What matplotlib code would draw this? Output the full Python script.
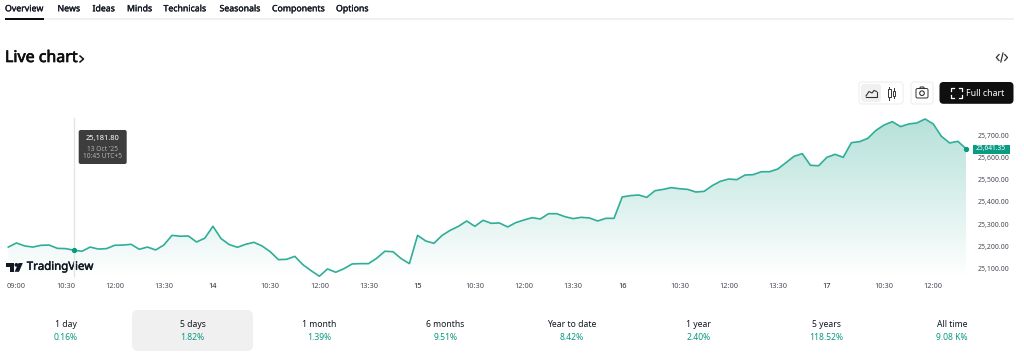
import numpy as np
import matplotlib
matplotlib.use("Agg")
import matplotlib.pyplot as plt
import matplotlib.patheffects as pe
from matplotlib.patches import FancyBboxPatch, Rectangle, Polygon, Circle

# ---- data ----
prices = [25196, 25214.5, 25201, 25196, 25204, 25205, 25190, 25189, 25181.8, 25177,
          25196, 25187, 25189, 25204, 25205, 25208.5, 25186, 25196, 25183, 25205,
          25249, 25245, 25246, 25219, 25236, 25290, 25234, 25207, 25195, 25208.5,
          25217.5, 25201, 25175, 25139, 25140.6, 25154, 25116, 25089, 25064, 25097,
          25082, 25098, 25119.5, 25121, 25121, 25145, 25177, 25175, 25143.6, 25121,
          25249, 25223.5, 25213, 25249, 25272, 25290, 25314, 25290, 25317, 25303.5,
          25305, 25287, 25306.5, 25318.6, 25329, 25323, 25347, 25347, 25333.6, 25324.6,
          25330.6, 25327.6, 25314, 25326, 25326, 25422.6, 25428.7, 25431.7, 25421, 25451,
          25457, 25465, 25460, 25457, 25445, 25448, 25474, 25493.6, 25504, 25501,
          25522, 25523.7, 25537, 25537, 25549, 25578, 25606.7, 25618.7, 25566, 25564,
          25602, 25615.7, 25602, 25668.5, 25673, 25688, 25724, 25748.5, 25763.5, 25741,
          25753, 25757.5, 25775.6, 25753, 25697, 25667, 25674.5, 25641.35]
x_tick_pos = [1, 7, 13, 19, 25, 32, 38, 44, 50, 57, 63, 69, 75, 82, 88, 94, 100, 107, 113]
x_tick_lab = ["09:00", "10:30", "12:00", "13:30", "14", "10:30", "12:00", "13:30", "15",
              "10:30", "12:00", "13:30", "16", "10:30", "12:00", "13:30", "17", "10:30", "12:00"]
y_ticks = [25100, 25200, 25300, 25400, 25500, 25600, 25700]
hover_index = 8
tabs = ["Overview", "News", "Ideas", "Minds", "Technicals", "Seasonals", "Components", "Options"]
tab_x = [5, 57.5, 92.5, 127, 163.5, 219.5, 272, 336]
periods = ["1 day", "5 days", "1 month", "6 months", "Year to date", "1 year", "5 years", "All time"]
changes = ["0.16%", "1.82%", "1.39%", "9.51%", "8.42%", "2.40%", "118.52%", "9.08 K%"]
period_x = [66, 192.5, 319, 445.5, 572, 699, 826, 952]

FONT = "Noto Sans"
plt.rcParams["font.family"] = FONT
W, H = 1024, 359
fig = plt.figure(figsize=(W / 100, H / 100), dpi=100, facecolor="white")

LINE = "#2fae98"
GREEN = "#089981"
GREY = "#4a4d57"

def box(px0, py0, px1, py1):
    return [px0 / W, 1 - py1 / H, (px1 - px0) / W, (py1 - py0) / H]

def heavy(w, color):
    return [pe.withStroke(linewidth=w, foreground=color)]

# ---- chart ----
ax = fig.add_axes(box(8.3, 118, 966, 278))
ax.patch.set_alpha(0)
for s in ax.spines.values():
    s.set_visible(False)
x = np.arange(len(prices))
ax.set_xlim(0, len(prices) - 1)
ax.set_ylim(25056, 25780)
top = max(prices)
grad = np.zeros((256, 2, 4))
grad[..., :3] = matplotlib.colors.to_rgb(GREEN)
grad[..., 3] = np.linspace(0.30, 0.0, 256)[:, None]
im = ax.imshow(grad, extent=(0, len(prices) - 1, 25056, top), aspect="auto", origin="upper", zorder=1)
poly = Polygon(list(zip(x, prices)) + [(x[-1], 25056), (0, 25056)], closed=True, transform=ax.transData,
               fc="none", ec="none")
ax.add_patch(poly)
im.set_clip_path(poly)
ax.set_xlim(0, len(prices) - 1)
ax.set_ylim(25056, 25780)
ax.axvline(hover_index, color="#e3e3e3", lw=0.9, zorder=2)
ax.plot(x, prices, color=LINE, lw=1.2, zorder=3, solid_joinstyle="round", clip_on=False)
ax.plot([hover_index, x[-1]], [prices[hover_index], prices[-1]], ls="none", marker="o", ms=2.8,
        color=GREEN, zorder=4, clip_on=False)
ax.set_xticks(x_tick_pos)
ax.set_xticklabels(x_tick_lab, fontsize=5.3, color=GREY)
for t in ax.get_xticklabels():
    if len(t.get_text()) == 2:
        t.set_fontweight("bold")
        t.set_color("#222222")
ax.set_yticks(y_ticks)
ax.set_yticklabels([f"{v:,.2f}" for v in y_ticks], fontsize=5.0, color=GREY)
ax.yaxis.tick_right()
ax.tick_params(axis="both", length=0)
ax.tick_params(axis="x", pad=3.4)
ax.tick_params(axis="y", pad=8.5)

# ---- page overlay in pixel coordinates ----
ov = fig.add_axes([0, 0, 1, 1], zorder=10)
ov.set_xlim(0, W)
ov.set_ylim(H, 0)
ov.axis("off")
ov.patch.set_alpha(0)

# last-price tag
ov.add_patch(Rectangle((973, 144.6), 37, 9.2, fc="#0a9b83", ec="none"))
ax.annotate(f"{prices[-1]:,.2f}", xy=(x[-1], prices[-1]), xytext=(18.0, 0), textcoords="offset points",
            ha="center", va="center", fontsize=4.8, color="white", annotation_clip=False, zorder=20)
ax.set_zorder(11)

ov.add_patch(Rectangle((5, 17.5), 1009, 2.2, fc="#f0f0f0", ec="none"))
ov.add_patch(Rectangle((5, 17.5), 39, 2.2, fc="#0f0f0f", ec="none"))
for name, px in zip(tabs, tab_x):
    ov.text(px, 8.8, name, fontsize=6.3, color="#131722", va="center", ha="left",
            path_effects=heavy(0.2, "#131722"))
ov.text(5, 58, "Live chart", fontsize=11.5, color="#0f0f0f", va="center", ha="left",
        path_effects=heavy(0.5, "#0f0f0f"))
ov.plot([80, 83.5, 80], [56, 59, 62], color="#0f0f0f", lw=1.1)

# embed icon
ov.plot([999, 996.3, 999], [54.5, 57.5, 60.5], color="#333333", lw=0.9)
ov.plot([1004.8, 1007.5, 1004.8], [54.5, 57.5, 60.5], color="#333333", lw=0.9)
ov.plot([1000.8, 1003], [62, 53], color="#333333", lw=0.9)

# buttons
def rbox(x0, y0, x1, y1, fc, ec="none", r=3):
    ov.add_patch(FancyBboxPatch((x0 + r, y0 + r), x1 - x0 - 2 * r, y1 - y0 - 2 * r,
                                boxstyle=f"round,pad={r},rounding_size={r}", fc=fc, ec=ec, lw=0.7))

rbox(859, 82, 903, 104, "white", "#ececec")
rbox(861, 84, 881, 102, "#f0f0f0")
ov.plot([866, 869, 872, 874, 876.5], [96, 91.5, 93, 90.5, 91.5], color="#333333", lw=0.8)
ov.plot([866, 876.5, 876.5], [97, 97, 91.5], color="#333333", lw=0.8)
for cx, y0, y1 in [(889.3, 88, 98), (894, 89.5, 96.5)]:
    ov.plot([cx, cx], [y0 - 1.5, y1 + 1.5], color="#333333", lw=0.7)
    ov.add_patch(Rectangle((cx - 1.4, y0 + 1), 2.8, y1 - y0 - 2, fc="white", ec="#333333", lw=0.7, zorder=3))
rbox(911, 82, 933, 104, "white", "#ececec")
rbox(916, 88.5, 928, 98, "white", "#333333", r=1.5)
ov.add_patch(Circle((922, 93.2), 2.3, fc="white", ec="#333333", lw=0.8))
ov.plot([919.5, 920.5, 923.5, 924.5], [88.5, 87, 87, 88.5], color="#333333", lw=0.8)
rbox(939.5, 82, 1013.5, 103.8, "#0f0f0f", r=4)
for (a, b), (c, d), (e, f) in [((951, 91), (951, 88), (954, 88)), ((958.5, 88), (961.7, 88), (961.7, 91)),
                              ((951, 95), (951, 98), (954, 98)), ((958.5, 98), (961.7, 98), (961.7, 95))]:
    ov.plot([a, c, e], [b, d, f], color="white", lw=0.9)
ov.text(966.5, 93, "Full chart", fontsize=6.3, color="white", va="center", ha="left", fontweight="bold")

# tooltip
rbox(78.7, 130, 126.7, 164, "#3d3d3d", r=2)
ov.text(102.7, 138.5, "25,181.80", fontsize=5.4, color="white", ha="center", va="center", fontweight="bold")
ov.text(102.7, 149.5, "13 Oct '25", fontsize=4.8, color="#b0b0b0", ha="center", va="center")
ov.text(102.7, 157, "10:45 UTC+5", fontsize=4.8, color="#b0b0b0", ha="center", va="center")

# TradingView logo
INK = "#131722"
ov.add_patch(Polygon([(6, 263), (13.8, 263), (13.8, 271.8), (9.6, 271.8), (9.6, 266.6), (6, 266.6)], fc=INK, ec="none"))
ov.add_patch(Circle((16.4, 264.9), 1.9, fc=INK, ec="none"))
ov.add_patch(Polygon([(18.6, 263), (22.8, 263), (19, 271.8), (14.6, 271.8)], fc=INK, ec="none"))
ov.text(26.8, 267.3, "TradingView", fontsize=8.2, color=INK, va="center", ha="left",
        path_effects=heavy(0.35, INK))

# period stats
rbox(132, 310, 253, 351, "#f0f0f0", r=6)
for px, p, c in zip(period_x, periods, changes):
    ov.text(px, 324.3, p, fontsize=6.2, color="#131722", ha="center", va="center")
    ov.text(px, 338, c, fontsize=6.2, color=GREEN, ha="center", va="center")

fig.savefig("out.png", dpi=100, facecolor="white")
